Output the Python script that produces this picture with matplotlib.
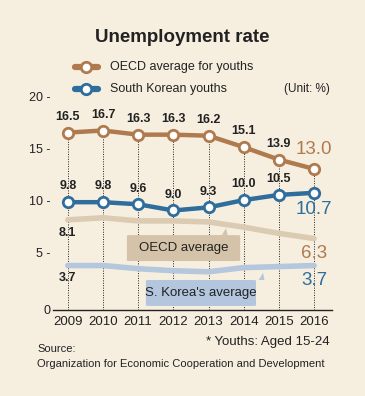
import matplotlib.pyplot as plt
from matplotlib.lines import Line2D
from matplotlib.patches import FancyBboxPatch, Polygon

years = [2009, 2010, 2011, 2012, 2013, 2014, 2015, 2016]
oecd_youth = [16.5, 16.7, 16.3, 16.3, 16.2, 15.1, 13.9, 13.0]
korea_youth = [9.8, 9.8, 9.6, 9.0, 9.3, 10.0, 10.5, 10.7]
oecd_avg = [8.1, 8.3, 8.0, 8.0, 7.9, 7.4, 6.8, 6.3]
korea_avg = [3.7, 3.7, 3.4, 3.2, 3.1, 3.5, 3.6, 3.7]
ytick_vals = [5, 10, 15, 20]
ytick_labels = ["5 -", "10 -", "15 -", "20 -"]

BG = "#f6efe0"
BROWN = "#b07a4f"
BLUE = "#2f6d9c"
TAN = "#dccbb3"
LBLUE = "#b4c7dc"
DARK = "#222222"

plt.rcParams['font.family'] = ['Liberation Sans', 'DejaVu Sans']

W, H = 365, 396
fig = plt.figure(figsize=(W / 100, H / 100), dpi=100, facecolor=BG)


def fx(x):
    return x / W


def fy(y):
    return 1 - y / H


ybot = -0.58
ax = fig.add_axes([fx(53), fy(310), (332 - 53) / W, (310 - 90) / H])
ax.set_facecolor(BG)
ax.set_xlim(2008.58, 2016.51)
ax.set_ylim(ybot, 20.6)
for s in ['top', 'right', 'left']:
    ax.spines[s].set_visible(False)
ax.spines['bottom'].set_linewidth(1.0)
ax.spines['bottom'].set_color(DARK)
ax.set_xticks(years)
ax.set_xticklabels([str(y) for y in years], fontsize=9.5, color=DARK)
ax.tick_params(axis='x', length=0, pad=4)
ax.set_yticks([ybot] + ytick_vals)
ax.set_yticklabels(["0"] + ytick_labels, fontsize=9, color=DARK)
ax.tick_params(axis='y', length=0, pad=2)

# dotted guides
ax.vlines(years, ybot, oecd_youth, colors=DARK, linestyles=(0, (1, 1.5)), lw=0.7, zorder=1)

# averages (thick light bands)
ax.plot(years, oecd_avg, color=TAN, lw=4, solid_capstyle='round', zorder=2)
ax.plot(years, korea_avg, color=LBLUE, lw=4, solid_capstyle='round', zorder=2)

# youth series
for vals, col in [(oecd_youth, BROWN), (korea_youth, BLUE)]:
    ax.plot(years, vals, color=col, lw=3.2, zorder=4, solid_capstyle='round',
            marker='o', ms=7.5, mfc='white', mec=col, mew=2.0)

for x, v in zip(years[:-1], oecd_youth[:-1]):
    ax.annotate(f"{v:.1f}", (x, v), xytext=(0, 7), textcoords='offset points',
                ha='center', va='bottom', fontsize=9, fontweight='bold', color=DARK)
for x, v in zip(years[:-1], korea_youth[:-1]):
    ax.annotate(f"{v:.1f}", (x, v), xytext=(0, 7), textcoords='offset points',
                ha='center', va='bottom', fontsize=9, fontweight='bold', color=DARK)

big = dict(textcoords='offset points', ha='center', fontsize=13.5)
ax.annotate(f"{oecd_youth[-1]:.1f}", (years[-1], oecd_youth[-1]), xytext=(0, 8),
            va='bottom', color=BROWN, **big)
ax.annotate(f"{korea_youth[-1]:.1f}", (years[-1], korea_youth[-1]), xytext=(0, -6),
            va='top', color=BLUE, **big)
ax.annotate(f"{oecd_avg[-1]:.1f}", (years[-1], oecd_avg[-1]), xytext=(0, -5),
            va='top', color=BROWN, **big)
ax.annotate(f"{korea_avg[-1]:.1f}", (years[-1], korea_avg[-1]), xytext=(0, -5),
            va='top', color=BLUE, **big)
ax.annotate(f"{oecd_avg[0]:.1f}", (years[0], oecd_avg[0]), xytext=(0, -5),
            textcoords='offset points', ha='center', va='top', fontsize=9,
            fontweight='bold', color=DARK)
ax.annotate(f"{korea_avg[0]:.1f}", (years[0], korea_avg[0]), xytext=(0, -5),
            textcoords='offset points', ha='center', va='top', fontsize=9,
            fontweight='bold', color=DARK)

# callout boxes
def callout(x0, x1, y0, y1, px, ptip, col, text):
    ax.add_patch(FancyBboxPatch((x0, y0), x1 - x0, y1 - y0,
                                boxstyle="round,pad=0,rounding_size=0.15",
                                mutation_aspect=1 / 3.4, fc=col, ec='none', zorder=3))
    ax.add_patch(Polygon([(px - 0.12, y1), (px, ptip), (px + 0.04, y1)],
                         closed=True, fc=col, ec='none', zorder=3))
    ax.text((x0 + x1) / 2, (y0 + y1) / 2, text, ha='center', va='center',
            fontsize=9.5, color=DARK, zorder=5)


callout(2010.68, 2013.9, 4.13, 6.63, 2013.5, 7.3, "#d4c3a9", "OECD average")
callout(2011.22, 2014.35, -0.19, 2.31, 2014.55, 3.0, "#b3c6dd", "S. Korea's average")

# title and legend
fig.text(fx(182), fy(38), "Unemployment rate", ha='center', va='center',
         fontsize=13.5, fontweight='bold', color=DARK)
for yy, col, lab in [(67, BROWN, "OECD average for youths"), (89, BLUE, "South Korean youths")]:
    fig.add_artist(Line2D([fx(75), fx(98)], [fy(yy), fy(yy)], transform=fig.transFigure,
                          color=col, lw=4.5, solid_capstyle='round'))
    fig.add_artist(Line2D([fx(86)], [fy(yy)], transform=fig.transFigure, marker='o',
                          ms=7.5, mfc='white', mec=col, mew=2.0))
    fig.text(fx(110), fy(yy), lab, ha='left', va='center', fontsize=9, color=DARK)
fig.text(fx(330), fy(89), "(Unit: %)", ha='right', va='center', fontsize=8.5, color=DARK)

fig.text(fx(330), fy(342), "* Youths: Aged 15-24", ha='right', va='center',
         fontsize=9.5, color=DARK)
fig.text(fx(37), fy(349), "Source:", ha='left', va='center', fontsize=8, color=DARK)
fig.text(fx(37), fy(364), "Organization for Economic Cooperation and Development",
         ha='left', va='center', fontsize=8, color=DARK)

fig.savefig("out.png", dpi=100, facecolor=BG)
